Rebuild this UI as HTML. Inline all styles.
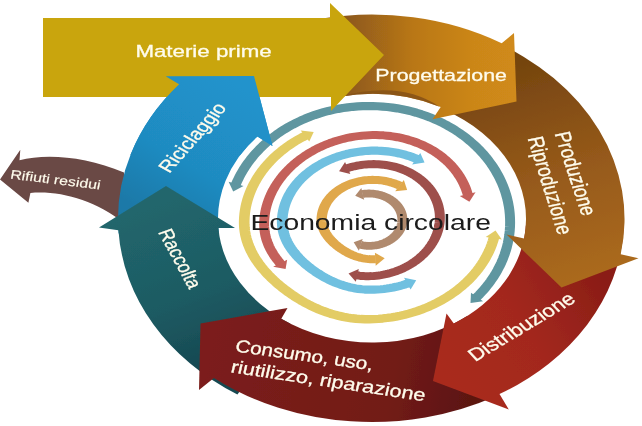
<!DOCTYPE html>
<html><head><meta charset="utf-8"><title>Economia circolare</title>
<style>html,body{margin:0;padding:0;background:#fff}svg{display:block}</style></head>
<body><svg width="642" height="426" viewBox="0 0 642 426">
<defs><filter id="soft" x="-2%" y="-2%" width="104%" height="104%"><feGaussianBlur stdDeviation="0.5"/></filter><linearGradient id="gProg" gradientUnits="userSpaceOnUse" x1="345" y1="60" x2="515" y2="60"><stop offset="0" stop-color="#8c581b"/><stop offset="0.4" stop-color="#b97718"/><stop offset="0.75" stop-color="#cb8619"/><stop offset="1" stop-color="#d08a1a"/></linearGradient><linearGradient id="gProd" gradientUnits="userSpaceOnUse" x1="520" y1="60" x2="590" y2="280"><stop offset="0" stop-color="#74440f"/><stop offset="0.5" stop-color="#95591a"/><stop offset="1" stop-color="#ab6a1b"/></linearGradient><linearGradient id="gDist" gradientUnits="userSpaceOnUse" x1="600" y1="270" x2="440" y2="370"><stop offset="0" stop-color="#8a1d17"/><stop offset="0.5" stop-color="#a3281d"/><stop offset="1" stop-color="#a92b1f"/></linearGradient><linearGradient id="gCons" gradientUnits="userSpaceOnUse" x1="210" y1="350" x2="470" y2="400"><stop offset="0" stop-color="#7b1f1b"/><stop offset="0.7" stop-color="#721b17"/><stop offset="1" stop-color="#5c1511"/></linearGradient><linearGradient id="gRacc" gradientUnits="userSpaceOnUse" x1="170" y1="200" x2="230" y2="360"><stop offset="0" stop-color="#21666c"/><stop offset="0.6" stop-color="#1d5a62"/><stop offset="1" stop-color="#164851"/></linearGradient><linearGradient id="gRic" gradientUnits="userSpaceOnUse" x1="230" y1="80" x2="150" y2="215"><stop offset="0" stop-color="#2193cc"/><stop offset="0.6" stop-color="#1f8bc1"/><stop offset="1" stop-color="#1c79a8"/></linearGradient><clipPath id="cpRic"><rect x="100" y="60" width="200" height="95"/></clipPath></defs>
<rect width="642" height="426" fill="#fff"/>
<g filter="url(#soft)">
<g transform="matrix(1.21369 0 0 1 369.15 222.18)"><path d="M -109.98 -37.36 L -108.59 -41.21 L -107.07 -45.01 L -105.42 -48.75 L -103.64 -52.44 L -101.73 -56.05 L -99.69 -59.60 L -97.53 -63.07 L -95.25 -66.47 L -92.85 -69.78 L -90.34 -73.01 L -87.71 -76.15 L -84.97 -79.19 L -82.13 -82.13 L -79.19 -84.97 L -76.15 -87.71 L -73.01 -90.33 L -69.78 -92.85 L -66.47 -95.25 L -63.08 -97.53 L -59.60 -99.69 L -56.05 -101.73 L -52.44 -103.64 L -48.75 -105.42 L -45.01 -107.07 L -41.21 -108.59 L -37.36 -109.98 L -33.47 -111.22 L -29.53 -112.33 L -25.56 -113.30 L -21.55 -114.13 L -17.52 -114.82 L -13.46 -115.37 L -9.39 -115.77 L -5.31 -116.03 L -1.22 -116.14 L 2.87 -116.11 L 6.96 -115.94 L 11.04 -115.62 L 15.10 -115.16 L 19.15 -114.56 L 23.17 -113.82 L 27.16 -112.93 L 31.12 -111.90 L 35.04 -110.74 L 38.92 -109.43 L 42.75 -108.00 L 46.53 -106.42 L 50.25 -104.72 L 53.90 -102.88 L 57.49 -100.92 L 61.01 -98.84 L 64.45 -96.63 L 67.82 -94.30 L 71.10 -91.85 L 74.29 -89.29 L 77.38 -86.62 L 80.39 -83.84 L 83.29 -80.96 L 86.09 -77.97 L 88.78 -74.89 L 91.36 -71.72 L 93.83 -68.46 L 96.18 -65.11 L 98.42 -61.68 L 100.53 -58.18 L 102.52 -54.60 L 104.37 -50.96 L 106.10 -47.25 L 107.70 -43.49 L 109.17 -39.67 L 110.50 -35.80 L 111.69 -31.88 L 112.74 -27.93 L 113.66 -23.94 L 114.43 -19.93 L 115.06 -15.88 L 115.55 -11.82 L 115.89 -7.75 L 116.09 -3.66 L 116.15 0.43 L 116.06 4.52 L 115.83 8.61 L 115.46 12.68 L 114.94 16.74 L 114.28 20.77 L 113.47 24.79 L 112.53 28.77 L 111.45 32.71 L 110.23 36.62 L 108.87 40.47 L 107.38 44.28 L 105.75 48.04 L 103.99 51.73 L 102.11 55.36 L 100.09 58.92 L 97.96 62.41 L 95.70 65.82 L 93.32 69.15 L 90.83 72.39 L 88.22 75.55" fill="none" stroke="#5e96a0" stroke-width="8.2" stroke-linejoin="round"/><polygon points="-112.03,-30.67 -103.51,-36.18 -115.78,-40.47" fill="#5e96a0"/><polygon points="83.51,80.72 83.91,70.59 93.85,78.96" fill="#5e96a0"/></g>
<g transform="matrix(1.26739 -0.02915 0 1 370.47 219.6)"><path d="M 97.46 20.67 L 96.68 24.08 L 95.77 27.46 L 94.75 30.80 L 93.61 34.11 L 92.35 37.37 L 90.99 40.59 L 89.51 43.76 L 87.91 46.87 L 86.21 49.93 L 84.41 52.93 L 82.50 55.86 L 80.49 58.72 L 78.38 61.51 L 76.17 64.22 L 73.87 66.85 L 71.48 69.41 L 69.00 71.87 L 66.43 74.25 L 63.79 76.53 L 61.06 78.73 L 58.26 80.82 L 55.39 82.82 L 52.45 84.71 L 49.44 86.50 L 46.37 88.18 L 43.25 89.75 L 40.07 91.22 L 36.85 92.57 L 33.58 93.80 L 30.26 94.92 L 26.91 95.93 L 23.53 96.81 L 20.12 97.58 L 16.68 98.22 L 13.22 98.75 L 9.75 99.15 L 6.26 99.43 L 2.77 99.59 L -0.73 99.63 L -4.22 99.51 L -7.71 99.24 L -11.18 98.81 L -14.62 98.23 L -18.03 97.49 L -21.40 96.61 L -24.72 95.60 L -27.99 94.44 L -31.21 93.17 L -34.37 91.77 L -37.47 90.26 L -40.51 88.65 L -43.48 86.94 L -46.38 85.14 L -49.22 83.26 L -52.00 81.30 L -54.71 79.27 L -57.37 77.17 L -59.96 75.01 L -62.49 72.79 L -64.96 70.50 L -67.38 68.16 L -69.74 65.76 L -72.04 63.31 L -74.29 60.79 L -76.47 58.22 L -78.59 55.59 L -80.64 52.90 L -82.63 50.14 L -84.54 47.32 L -86.36 44.44 L -88.10 41.49 L -89.74 38.47 L -91.29 35.40 L -92.72 32.26 L -94.04 29.06 L -95.23 25.80 L -96.29 22.49 L -97.22 19.14 L -98.00 15.74 L -98.64 12.31 L -99.12 8.85 L -99.44 5.37 L -99.61 1.88 L -99.62 -1.62 L -99.50 -5.12 L -99.26 -8.61 L -98.89 -12.08 L -98.41 -15.55 L -97.80 -18.99 L -97.08 -22.41 L -96.23 -25.81 L -95.26 -29.17 L -94.18 -32.49 L -92.98 -35.78 L -91.67 -39.02 L -90.24 -42.21 L -88.71 -45.36 L -87.06 -48.44 L -85.31 -51.47 L -83.45 -54.43 L -81.49 -57.32 L -79.42 -60.15 L -77.26 -62.90 L -75.01 -65.57 L -72.66 -68.17 L -70.22 -70.67 L -67.70 -73.09 L -65.09 -75.43 L -62.41 -77.66 L -59.64 -79.81 L -56.80 -81.85 L -53.90 -83.79 L -50.92 -85.63" fill="none" stroke="#e3cc65" stroke-width="8.4" stroke-linejoin="round"/><polygon points="98.67,13.78 90.93,20.12 103.62,22.93" fill="#e3cc65"/><polygon points="-44.78,-89.00 -48.30,-79.63 -55.04,-90.74" fill="#e3cc65"/></g>
<g transform="matrix(1.24037 -0.0707011 0 1 367.19 218.34)"><path d="M -69.78 40.53 L -71.34 38.14 L -72.83 35.70 L -74.24 33.20 L -75.57 30.64 L -76.81 28.04 L -77.96 25.38 L -79.00 22.68 L -79.94 19.93 L -80.76 17.14 L -81.47 14.31 L -82.05 11.45 L -82.50 8.56 L -82.83 5.65 L -83.02 2.73 L -83.08 -0.19 L -83.02 -3.12 L -82.86 -6.04 L -82.60 -8.96 L -82.23 -11.86 L -81.76 -14.75 L -81.19 -17.62 L -80.52 -20.47 L -79.75 -23.29 L -78.88 -26.09 L -77.91 -28.85 L -76.85 -31.58 L -75.69 -34.26 L -74.43 -36.91 L -73.09 -39.51 L -71.65 -42.06 L -70.12 -44.55 L -68.51 -47.00 L -66.81 -49.38 L -65.03 -51.70 L -63.17 -53.96 L -61.23 -56.15 L -59.21 -58.28 L -57.12 -60.33 L -54.96 -62.30 L -52.73 -64.20 L -50.44 -66.02 L -48.08 -67.75 L -45.67 -69.40 L -43.19 -70.97 L -40.67 -72.45 L -38.09 -73.83 L -35.47 -75.13 L -32.80 -76.33 L -30.09 -77.44 L -27.34 -78.45 L -24.56 -79.37 L -21.75 -80.18 L -18.91 -80.90 L -16.05 -81.51 L -13.17 -82.03 L -10.27 -82.44 L -7.36 -82.75 L -4.44 -82.96 L -1.52 -83.07 L 1.41 -83.07 L 4.34 -82.97 L 7.26 -82.76 L 10.17 -82.46 L 13.06 -82.05 L 15.95 -81.54 L 18.81 -80.92 L 21.65 -80.21 L 24.46 -79.40 L 27.24 -78.49 L 29.99 -77.48 L 32.70 -76.37 L 35.37 -75.18 L 38.00 -73.88 L 40.57 -72.50 L 43.10 -71.02 L 45.58 -69.46 L 48.00 -67.81 L 50.36 -66.08 L 52.65 -64.27 L 54.88 -62.37 L 57.05 -60.40 L 59.14 -58.35 L 61.16 -56.23 L 63.10 -54.04 L 64.96 -51.79 L 66.75 -49.47 L 68.45 -47.09 L 70.07 -44.64 L 71.59 -42.15 L 73.03 -39.60 L 74.38 -37.00 L 75.64 -34.36 L 76.80 -31.67 L 77.87 -28.95 L 78.84 -26.19 L 79.72 -23.39 L 80.49 -20.57 L 81.17 -17.72" fill="none" stroke="#c4615a" stroke-width="8" stroke-linejoin="round"/><polygon points="-65.79,46.03 -64.53,36.73 -75.82,43.16" fill="#c4615a"/><polygon points="82.37,-10.83 74.67,-16.99 87.35,-19.87" fill="#c4615a"/></g>
<g transform="matrix(1.29694 -0.0233448 0 1 372.35 220.2)"><path d="M 27.54 63.82 L 25.28 64.75 L 23.00 65.59 L 20.69 66.36 L 18.35 67.04 L 15.99 67.65 L 13.61 68.16 L 11.21 68.60 L 8.80 68.95 L 6.38 69.22 L 3.95 69.40 L 1.52 69.49 L -0.92 69.50 L -3.35 69.40 L -5.78 69.20 L -8.19 68.88 L -10.59 68.46 L -12.96 67.93 L -15.30 67.30 L -17.61 66.58 L -19.88 65.76 L -22.12 64.86 L -24.31 63.87 L -26.46 62.81 L -28.57 61.68 L -30.63 60.48 L -32.65 59.22 L -34.62 57.90 L -36.55 56.53 L -38.43 55.10 L -40.28 53.64 L -42.08 52.12 L -43.83 50.57 L -45.55 48.97 L -47.23 47.34 L -48.87 45.66 L -50.47 43.94 L -52.03 42.19 L -53.54 40.39 L -55.01 38.55 L -56.44 36.67 L -57.81 34.75 L -59.13 32.78 L -60.40 30.76 L -61.60 28.70 L -62.74 26.60 L -63.81 24.45 L -64.80 22.26 L -65.70 20.03 L -66.53 17.75 L -67.26 15.45 L -67.89 13.11 L -68.42 10.74 L -68.86 8.34 L -69.18 5.93 L -69.39 3.51 L -69.50 1.07 L -69.50 -1.36 L -69.41 -3.80 L -69.23 -6.23 L -68.97 -8.65 L -68.62 -11.06 L -68.19 -13.46 L -67.68 -15.84 L -67.09 -18.20 L -66.41 -20.54 L -65.65 -22.85 L -64.80 -25.14 L -63.88 -27.40 L -62.88 -29.62 L -61.81 -31.80 L -60.66 -33.95 L -59.43 -36.05 L -58.13 -38.11 L -56.76 -40.13 L -55.32 -42.09 L -53.81 -44.00 L -52.23 -45.86 L -50.59 -47.66 L -48.89 -49.41 L -47.13 -51.09 L -45.31 -52.71 L -43.44 -54.27 L -41.51 -55.76 L -39.53 -57.18 L -37.50 -58.53 L -35.43 -59.80 L -33.31 -61.01 L -31.15 -62.14 L -28.96 -63.19 L -26.72 -64.17 L -24.46 -65.06 L -22.16 -65.88 L -19.84 -66.62 L -17.50 -67.27 L -15.13 -67.84 L -12.74 -68.33 L -10.34 -68.74 L -7.92 -69.06 L -5.50 -69.29 L -3.07 -69.44 L -0.63 -69.51 L 1.80 -69.49 L 4.24 -69.38 L 6.67 -69.19 L 9.09 -68.91 L 11.49 -68.55 L 13.89 -68.11 L 16.27 -67.58 L 18.63 -66.97 L 20.96 -66.27 L 23.27 -65.50 L 25.55 -64.64 L 27.80 -63.71 L 30.02 -62.70 L 32.19 -61.60 L 34.33 -60.44" fill="none" stroke="#6fc0e0" stroke-width="8.2" stroke-linejoin="round"/><polygon points="33.81,60.73 24.46,58.07 29.50,70.05" fill="#6fc0e0"/><polygon points="40.24,-56.68 30.64,-55.06 36.97,-66.42" fill="#6fc0e0"/></g>
<g transform="matrix(1.24411 -0.046032 0 1 370.21 220.17)"><path d="M -18.56 -52.84 L -16.70 -53.45 L -14.82 -54.00 L -12.92 -54.49 L -11.00 -54.91 L -9.08 -55.26 L -7.14 -55.54 L -5.19 -55.76 L -3.23 -55.91 L -1.28 -55.99 L 0.68 -56.00 L 2.64 -55.94 L 4.60 -55.81 L 6.55 -55.62 L 8.49 -55.35 L 10.42 -55.02 L 12.34 -54.62 L 14.25 -54.16 L 16.13 -53.63 L 18.00 -53.03 L 19.84 -52.37 L 21.66 -51.64 L 23.46 -50.85 L 25.22 -50.00 L 26.96 -49.08 L 28.66 -48.11 L 30.33 -47.08 L 31.95 -45.99 L 33.54 -44.84 L 35.09 -43.64 L 36.60 -42.39 L 38.06 -41.08 L 39.47 -39.72 L 40.84 -38.32 L 42.15 -36.86 L 43.42 -35.37 L 44.63 -33.83 L 45.79 -32.24 L 46.89 -30.62 L 47.93 -28.96 L 48.91 -27.27 L 49.84 -25.54 L 50.70 -23.78 L 51.50 -21.99 L 52.24 -20.17 L 52.91 -18.33 L 53.52 -16.47 L 54.07 -14.59 L 54.54 -12.69 L 54.95 -10.77 L 55.30 -8.84 L 55.57 -6.90 L 55.78 -4.95 L 55.92 -3.00 L 55.99 -1.04 L 55.99 0.92 L 55.93 2.88 L 55.79 4.84 L 55.59 6.79 L 55.32 8.73 L 54.98 10.66 L 54.57 12.58 L 54.10 14.48 L 53.56 16.36 L 52.95 18.23 L 52.28 20.07 L 51.55 21.88 L 50.75 23.67 L 49.89 25.44 L 48.97 27.17 L 47.99 28.86 L 46.95 30.53 L 45.85 32.15 L 44.70 33.73 L 43.49 35.28 L 42.23 36.78 L 40.92 38.23 L 39.55 39.64 L 38.14 41.00 L 36.68 42.31 L 35.18 43.57 L 33.64 44.77 L 32.05 45.92 L 30.42 47.02 L 28.76 48.05 L 27.06 49.03 L 25.33 49.95 L 23.56 50.80 L 21.77 51.60 L 19.95 52.33 L 18.11 52.99 L 16.24 53.59 L 14.36 54.13 L 12.45 54.60 L 10.54 55.00 L 8.60 55.33 L 6.66 55.60 L 4.71 55.80 L 2.76 55.93 L 0.80 55.99 L -1.16 55.98 L -3.12 55.89 L -5.07 55.70 L -7.01 55.43 L -8.93 55.07 L -10.83 54.63" fill="none" stroke="#9e4f4c" stroke-width="8" stroke-linejoin="round"/><polygon points="-25.00,-50.11 -16.00,-46.84 -20.20,-59.15" fill="#9e4f4c"/><polygon points="-17.42,52.42 -9.15,48.36 -11.57,61.13" fill="#9e4f4c"/></g>
<g transform="matrix(1.29262 0 0 1 373.02 219.58)"><path d="M 2.13 39.65 L 0.74 39.70 L -0.65 39.70 L -2.04 39.64 L -3.42 39.52 L -4.80 39.33 L -6.16 39.08 L -7.51 38.78 L -8.85 38.42 L -10.17 38.00 L -11.46 37.53 L -12.74 37.01 L -13.99 36.44 L -15.21 35.83 L -16.41 35.18 L -17.59 34.50 L -18.74 33.77 L -19.86 33.02 L -20.96 32.23 L -22.03 31.42 L -23.08 30.58 L -24.11 29.72 L -25.11 28.83 L -26.09 27.91 L -27.05 26.98 L -27.98 26.02 L -28.89 25.04 L -29.78 24.04 L -30.64 23.01 L -31.48 21.96 L -32.29 20.88 L -33.07 19.78 L -33.83 18.66 L -34.55 17.51 L -35.23 16.33 L -35.88 15.13 L -36.48 13.90 L -37.05 12.65 L -37.56 11.37 L -38.03 10.07 L -38.44 8.76 L -38.80 7.42 L -39.10 6.07 L -39.35 4.70 L -39.53 3.32 L -39.65 1.94 L -39.71 0.55 L -39.70 -0.84 L -39.65 -2.23 L -39.54 -3.62 L -39.39 -5.00 L -39.19 -6.37 L -38.95 -7.74 L -38.65 -9.10 L -38.31 -10.45 L -37.92 -11.78 L -37.49 -13.10 L -37.00 -14.41 L -36.48 -15.70 L -35.90 -16.96 L -35.29 -18.21 L -34.63 -19.43 L -33.93 -20.63 L -33.19 -21.81 L -32.40 -22.96 L -31.58 -24.08 L -30.72 -25.17 L -29.82 -26.23 L -28.88 -27.26 L -27.91 -28.25 L -26.90 -29.21 L -25.86 -30.13 L -24.79 -31.02 L -23.69 -31.87 L -22.56 -32.68 L -21.40 -33.45 L -20.22 -34.18 L -19.01 -34.86 L -17.78 -35.51 L -16.52 -36.11 L -15.25 -36.67 L -13.96 -37.18 L -12.65 -37.64 L -11.32 -38.06 L -9.98 -38.44 L -8.63 -38.76 L -7.27 -39.04 L -5.90 -39.27 L -4.52 -39.45 L -3.13 -39.59 L -1.75 -39.67 L -0.36 -39.71 L 1.03 -39.70 L 2.42 -39.64 L 3.81 -39.53 L 5.19 -39.37 L 6.57 -39.16 L 7.93 -38.91 L 9.29 -38.61 L 10.64 -38.26 L 11.97 -37.86 L 13.29 -37.42 L 14.59 -36.93 L 15.87 -36.40 L 17.14 -35.82 L 18.38 -35.20 L 19.60 -34.53 L 20.80 -33.83" fill="none" stroke="#e0a84c" stroke-width="8" stroke-linejoin="round"/><polygon points="9.05,38.66 1.49,33.18 2.08,46.16" fill="#e0a84c"/><polygon points="26.41,-29.66 17.15,-28.44 23.86,-39.57" fill="#e0a84c"/></g>
<g transform="matrix(1.27655 0 0 1 368.95 219.68)"><path d="M -5.07 -25.68 L -4.16 -25.85 L -3.25 -25.98 L -2.33 -26.08 L -1.41 -26.14 L -0.49 -26.18 L 0.43 -26.18 L 1.35 -26.14 L 2.27 -26.08 L 3.19 -25.98 L 4.10 -25.86 L 5.01 -25.70 L 5.92 -25.50 L 6.81 -25.28 L 7.70 -25.02 L 8.57 -24.74 L 9.44 -24.42 L 10.29 -24.07 L 11.14 -23.69 L 11.96 -23.29 L 12.78 -22.85 L 13.57 -22.39 L 14.35 -21.89 L 15.12 -21.37 L 15.86 -20.83 L 16.59 -20.26 L 17.29 -19.66 L 17.97 -19.04 L 18.63 -18.39 L 19.27 -17.73 L 19.88 -17.04 L 20.47 -16.32 L 21.03 -15.59 L 21.57 -14.84 L 22.08 -14.07 L 22.56 -13.29 L 23.01 -12.48 L 23.44 -11.67 L 23.83 -10.83 L 24.20 -9.99 L 24.54 -9.13 L 24.84 -8.26 L 25.12 -7.38 L 25.36 -6.49 L 25.58 -5.59 L 25.76 -4.68 L 25.91 -3.77 L 26.02 -2.86 L 26.11 -1.94 L 26.16 -1.02 L 26.18 -0.10 L 26.17 0.83 L 26.12 1.75 L 26.04 2.67 L 25.93 3.58 L 25.79 4.49 L 25.62 5.40 L 25.41 6.30 L 25.17 7.19 L 24.90 8.07 L 24.60 8.95 L 24.27 9.81 L 23.91 10.66 L 23.52 11.49 L 23.10 12.31 L 22.66 13.12 L 22.18 13.91 L 21.67 14.68 L 21.14 15.44 L 20.59 16.17 L 20.00 16.89 L 19.40 17.58 L 18.77 18.26 L 18.11 18.91 L 17.43 19.53 L 16.73 20.13 L 16.01 20.71 L 15.27 21.26 L 14.52 21.79 L 13.74 22.29 L 12.95 22.76 L 12.14 23.20 L 11.31 23.61 L 10.47 23.99 L 9.62 24.35 L 8.76 24.67 L 7.88 24.97 L 7.00 25.23 L 6.10 25.46 L 5.20 25.66 L 4.30 25.83 L 3.38 25.96 L 2.47 26.06 L 1.55 26.13 L 0.62 26.17 L -0.30 26.18 L -1.22 26.14 L -2.14 26.07 L -3.05 25.95 L -3.96 25.79 L -4.86 25.59 L -5.74 25.35 L -6.62 25.08" fill="none" stroke="#b08a6e" stroke-width="7.8" stroke-linejoin="round"/><polygon points="-10.77,-23.86 -3.74,-19.83 -5.96,-31.62" fill="#b08a6e"/><polygon points="-11.94,22.53 -4.92,19.34 -7.88,30.96" fill="#b08a6e"/></g>
<path d="M 0 179.5 L 20.3 149.7 L 19.5 160.3 C 45 153.5 85 156 124 172.5 L 124 223 C 95 200 60 190.5 30.4 193 L 28.4 202.8 Z" fill="#6b4845"/>
<path id="ric" d="M 118.6 233.4 A 254 207 0 0 1 179.1 84.3 L 165.7 76.3 L 254.0 76.0 L 272.5 146.0 L 257.4 136.5 A 154 123.5 0 0 0 218.8 231.9 Z" fill="url(#gRic)"/>
<path d="M 237.4 394.5 A 254 207 0 0 1 118.4 230.2 L 99.0 227.5 L 166.0 186.0 L 235.0 228.0 L 218.4 228.0 A 154 123.5 0 0 0 290.4 323.7 Z" fill="url(#gRacc)"/>
<path d="M 495.1 396.5 A 254 203 0 0 1 213.9 377.9 L 199.0 390.0 L 200.5 323.5 L 287.5 308.0 L 281.3 318.8 A 154 123.5 0 0 0 466.8 316.3 Z" fill="url(#gCons)"/>
<path d="M 623.7 229.6 A 252 203 0 0 1 499.5 394.1 L 508.8 409.5 L 433.0 381.0 L 446.5 313.5 L 453.8 323.6 A 154 123.5 0 0 0 525.8 225.5 Z" fill="url(#gDist)"/>
<path d="M 490.5 39.8 A 252.5 203 0 0 1 620.7 254.3 L 638.5 258.3 L 561.5 287.5 L 506.5 234.5 L 524.1 238.5 A 154 123.5 0 0 0 444.3 110.0 Z" fill="url(#gProd)"/>
<path d="M 319.2 19.0 A 254 204.5 0 0 1 501.7 43.2 L 514.0 33.0 L 516.5 101.5 L 432.5 119.3 L 440.7 107.1 A 154 125 0 0 0 340.0 96.7 Z" fill="url(#gProg)"/>
<path d="M 340.0 96.7 A 154 125 0 0 1 439.5 106.7 Q 400 80 340.0 96.7 Z" fill="#85511a" opacity="0.85"/>
<path d="M43 18 L330 18 L330 3 L384 55 L331 111 L331 97 L43 97 Z" fill="#c9a50c"/>
<use href="#ric" clip-path="url(#cpRic)"/>
<text transform="translate(135.4 56.6) scale(1.25 1) rotate(0.00)" font-size="16.4" fill="#fffcec" stroke="#fffcec" stroke-width="0.3" textLength="109" lengthAdjust="spacingAndGlyphs" font-family="'Liberation Sans', sans-serif">Materie prime</text>
<text transform="translate(375.3 80.7) scale(1.25 1) rotate(0.00)" font-size="16.6" fill="#fffcec" stroke="#fffcec" stroke-width="0.3" textLength="105.3" lengthAdjust="spacingAndGlyphs" font-family="'Liberation Sans', sans-serif">Progettazione</text>
<text transform="translate(554.5 133.6) scale(1.25 1) rotate(75.18)" font-size="17.8" fill="#fffcec" stroke="#fffcec" stroke-width="0.3" textLength="86" lengthAdjust="spacingAndGlyphs" font-family="'Liberation Sans', sans-serif">Produzione</text>
<text transform="translate(527.4 138.2) scale(1.25 1) rotate(75.84)" font-size="17.8" fill="#fffcec" stroke="#fffcec" stroke-width="0.3" textLength="100.5" lengthAdjust="spacingAndGlyphs" font-family="'Liberation Sans', sans-serif">Riproduzione</text>
<text transform="translate(475.2 362) scale(1.25 1) rotate(-36.91)" font-size="17.8" fill="#fffcec" stroke="#fffcec" stroke-width="0.3" textLength="101.5" lengthAdjust="spacingAndGlyphs" font-family="'Liberation Sans', sans-serif">Distribuzione</text>
<text transform="translate(234.5 351.4) scale(1.25 1) rotate(9.84)" font-size="17.6" fill="#fffcec" stroke="#fffcec" stroke-width="0.3" textLength="111.5" lengthAdjust="spacingAndGlyphs" font-family="'Liberation Sans', sans-serif">Consumo, uso,</text>
<text transform="translate(230 372.2) scale(1.25 1) rotate(10.58)" font-size="17.6" fill="#fffcec" stroke="#fffcec" stroke-width="0.3" textLength="158" lengthAdjust="spacingAndGlyphs" font-family="'Liberation Sans', sans-serif">riutilizzo, riparazione</text>
<text transform="translate(157.8 232) scale(1.25 1) rotate(66.35)" font-size="16.8" fill="#fffcec" stroke="#fffcec" stroke-width="0.3" textLength="63" lengthAdjust="spacingAndGlyphs" font-family="'Liberation Sans', sans-serif">Raccolta</text>
<text transform="translate(169.2 173.8) scale(1.25 1) rotate(-54.80)" font-size="17" fill="#fffcec" stroke="#fffcec" stroke-width="0.3" textLength="80.6" lengthAdjust="spacingAndGlyphs" font-family="'Liberation Sans', sans-serif">Riciclaggio</text>
<text transform="translate(9.7 178.5) scale(1.25 1) rotate(8.73)" font-size="12.7" fill="#fffcec" stroke="#fffcec" stroke-width="0.15" textLength="72.8" lengthAdjust="spacingAndGlyphs" font-family="'Liberation Sans', sans-serif">Rifiuti residui</text>
<text transform="translate(250.4 229.6) scale(1.25 1) rotate(0.00)" font-size="22.6" fill="#1a1a1a" textLength="192.4" lengthAdjust="spacingAndGlyphs" font-family="'Liberation Sans', sans-serif">Economia circolare</text>
</g>
</svg></body></html>
